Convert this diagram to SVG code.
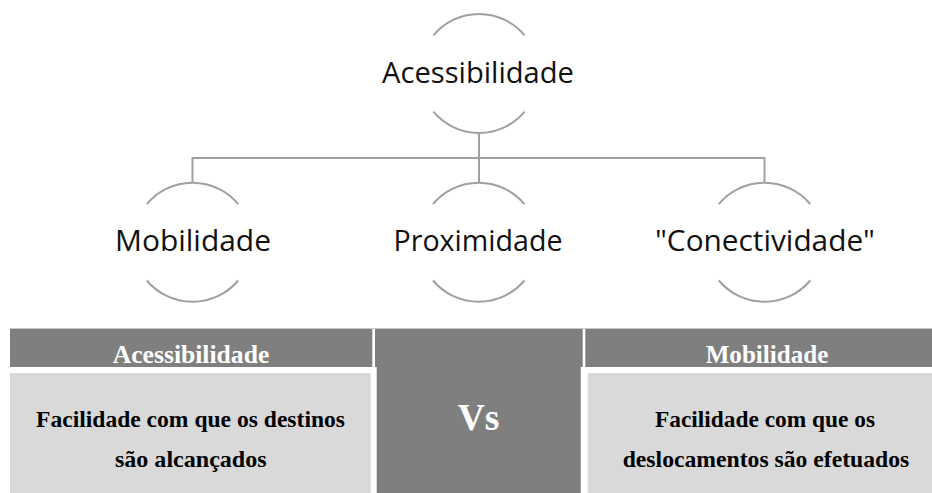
<svg xmlns="http://www.w3.org/2000/svg" width="932" height="493" viewBox="0 0 932 493">
<style>
.arc{fill:none;stroke:#a0a0a0;stroke-width:2}
.conn{fill:none;stroke:#a0a0a0;stroke-width:2}
.lbl{font-family:"Open Sans","Noto Sans",sans-serif;font-size:29px;fill:#111;text-anchor:middle}
.hdr{fill:#7f7f7f}
.cell{fill:#d9d9d9}
.htxt{font-family:"Liberation Serif","Times New Roman",serif;font-weight:bold;font-size:25px;fill:#fff;text-anchor:middle}
.vs{font-family:"Liberation Serif","Times New Roman",serif;font-weight:bold;font-size:38px;fill:#fff;text-anchor:middle}
.btxt{font-family:"Liberation Serif","Times New Roman",serif;font-weight:bold;font-size:22.5px;fill:#000;text-anchor:middle}
</style>
<rect width="932" height="493" fill="#fff"/>
<g id="connectors">
<path class="conn" d="M479 133 V183"/>
<path class="conn" d="M192.5 182.6 V158 H764.5 V182.6"/>
</g>
<g id="node-acessibilidade">
<path class="arc" d="M433.4 35.3 A59.5 59.5 0 0 1 524.6 35.3"/>
<path class="arc" d="M433.4 111.7 A59.5 59.5 0 0 0 524.6 111.7"/>
<text class="lbl" x="478" y="83" textLength="192" lengthAdjust="spacingAndGlyphs">Acessibilidade</text>
</g>
<g id="node-mobilidade">
<path class="arc" d="M146.8 204.1 A59.7 59.7 0 0 1 238.2 204.1"/>
<path class="arc" d="M146.8 280.5 A59.7 59.7 0 0 0 238.2 280.5"/>
<text class="lbl" x="193" y="251" textLength="156" lengthAdjust="spacingAndGlyphs">Mobilidade</text>
</g>
<g id="node-proximidade">
<path class="arc" d="M433 204.1 A59.7 59.7 0 0 1 524.4 204.1"/>
<path class="arc" d="M433 280.5 A59.7 59.7 0 0 0 524.4 280.5"/>
<text class="lbl" x="478" y="251" textLength="169" lengthAdjust="spacingAndGlyphs">Proximidade</text>
</g>
<g id="node-conectividade">
<path class="arc" d="M718.8 204.1 A59.7 59.7 0 0 1 810.2 204.1"/>
<path class="arc" d="M718.8 280.5 A59.7 59.7 0 0 0 810.2 280.5"/>
<text class="lbl" x="765" y="251" textLength="220" lengthAdjust="spacingAndGlyphs">"Conectividade"</text>
</g>
<g id="table">
<line x1="10" y1="328.5" x2="932" y2="328.5" stroke="#c8c8c8" stroke-width="1"/>
<rect class="hdr" x="10" y="329" width="362.3" height="38"/>
<rect class="hdr" x="375" y="329" width="207.7" height="38"/>
<rect class="hdr" x="376.7" y="366" width="204" height="127"/>
<rect class="hdr" x="585.3" y="329" width="346.7" height="38"/>
<rect class="cell" x="10" y="373" width="360.7" height="120"/>
<rect class="cell" x="587.7" y="373" width="344.3" height="120"/>
<text class="htxt" x="191" y="362.7" textLength="156.6" lengthAdjust="spacingAndGlyphs">Acessibilidade</text>
<text class="htxt" x="767" y="362.7" textLength="122.6" lengthAdjust="spacingAndGlyphs">Mobilidade</text>
<text class="vs" x="478.5" y="430" textLength="41.6" lengthAdjust="spacingAndGlyphs">Vs</text>
<text class="btxt" x="190.5" y="426.5" textLength="309" lengthAdjust="spacingAndGlyphs">Facilidade com que os destinos</text>
<text class="btxt" x="190.8" y="467" textLength="151.7" lengthAdjust="spacingAndGlyphs">são alcançados</text>
<text class="btxt" x="765" y="426.5" textLength="220" lengthAdjust="spacingAndGlyphs">Facilidade com que os</text>
<text class="btxt" x="766" y="467" textLength="286.6" lengthAdjust="spacingAndGlyphs">deslocamentos são efetuados</text>
</g>
</svg>
